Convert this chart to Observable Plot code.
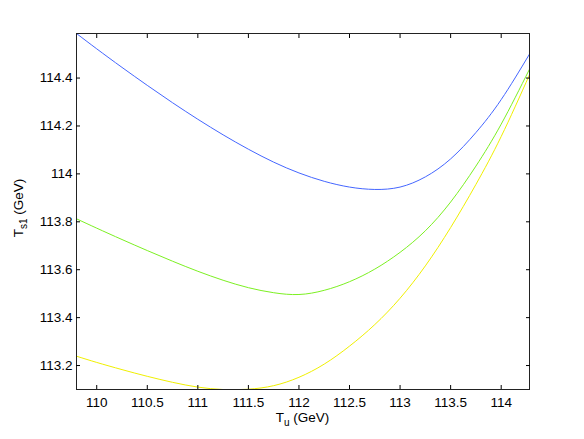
<!DOCTYPE html>
<html><head><meta charset="utf-8">
<script src="https://cdn.jsdelivr.net/npm/d3@7"></script>
<script src="https://cdn.jsdelivr.net/npm/@observablehq/plot@0.6"></script>
<style>body{margin:0;background:#fff} svg{display:block}</style>
</head><body><div id="chart"></div>
<script>
// T_u (GeV) sample positions
const tu = [109.8, 110, 110.25, 110.5, 110.75, 111, 111.25, 111.5, 111.75, 112, 112.25, 112.5, 112.75, 113, 113.25, 113.5, 113.75, 114, 114.28];
// T_s1 (GeV) for each curve
const blueSeries   = [114.586, 114.522, 114.4445, 114.3695, 114.297, 114.228, 114.163, 114.103, 114.049, 114.004, 113.969, 113.945, 113.935, 113.945, 113.9875, 114.0625, 114.1725, 114.31, 114.50];
const greenSeries  = [113.8125, 113.7735, 113.726, 113.68, 113.6355, 113.5935, 113.556, 113.525, 113.504, 113.4965, 113.514, 113.550, 113.6025, 113.6725, 113.7625, 113.8825, 114.0325, 114.2075, 114.437];
const yellowSeries = [113.239, 113.213, 113.183, 113.155, 113.13, 113.11, 113.10, 113.1013, 113.116, 113.151, 113.206, 113.281, 113.371, 113.481, 113.616, 113.776, 113.956, 114.156, 114.4136];
const xTicks = [110, 110.5, 111, 111.5, 112, 112.5, 113, 113.5, 114];
const yTicks = [113.2, 113.4, 113.6, 113.8, 114, 114.2, 114.4];

const plot = Plot.plot({
  width: 584, height: 439,
  marginLeft: 76, marginRight: 55, marginTop: 33, marginBottom: 50,
  style: {fontFamily: "'Liberation Sans', Arial, sans-serif", fontSize: "13.5px", color: "black", background: "white"},
  x: {domain: [109.8, 114.28], label: null},
  y: {domain: [113.1, 114.586], label: null},
  marks: [
    Plot.line(tu, {x: tu, y: blueSeries, stroke: "#4466ff", strokeWidth: 1, curve: "natural", clip: true}),
    Plot.line(tu, {x: tu, y: greenSeries, stroke: "#7cf022", strokeWidth: 1, curve: "natural", clip: true}),
    Plot.line(tu, {x: tu, y: yellowSeries, stroke: "#f0f000", strokeWidth: 1, curve: "natural", clip: true}),
    Plot.frame({stroke: "#222"}),
    Plot.axisX(xTicks, {anchor: "bottom", tickSize: 0, tickPadding: 8, tickFormat: d => String(d), label: null}),
    Plot.axisX(xTicks, {anchor: "bottom", tickSize: 4, dy: -4, fill: "none", label: null}),
    Plot.axisX(xTicks, {anchor: "top", tickSize: 4, dy: 4, fill: "none", label: null}),
    Plot.axisY(yTicks, {anchor: "left", tickSize: 0, tickPadding: 4, tickFormat: d => String(d), label: null}),
    Plot.axisY(yTicks, {anchor: "left", tickSize: 4, dx: 4, fill: "none", label: null}),
    Plot.axisY(yTicks, {anchor: "right", tickSize: 4, dx: -4, fill: "none", label: null})
  ]
});
document.getElementById("chart").appendChild(plot);

const svg = d3.select(plot);
const font = "'Liberation Sans', Arial, sans-serif";
const xl = svg.append("text").attr("x", 302.5).attr("y", 422).attr("text-anchor", "middle")
  .attr("font-family", font).attr("font-size", 13.5).attr("fill", "black");
xl.append("tspan").text("T");
xl.append("tspan").attr("dy", 4).attr("font-size", 10).text("u");
xl.append("tspan").attr("dy", -4).text(" (GeV)");

const yl = svg.append("text").attr("transform", "translate(23,208) rotate(-90)").attr("text-anchor", "middle")
  .attr("font-family", font).attr("font-size", 13.5).attr("fill", "black");
yl.append("tspan").text("T");
yl.append("tspan").attr("dy", 4).attr("font-size", 10).text("s1");
yl.append("tspan").attr("dy", -4).text(" (GeV)");
</script>
</body></html>
